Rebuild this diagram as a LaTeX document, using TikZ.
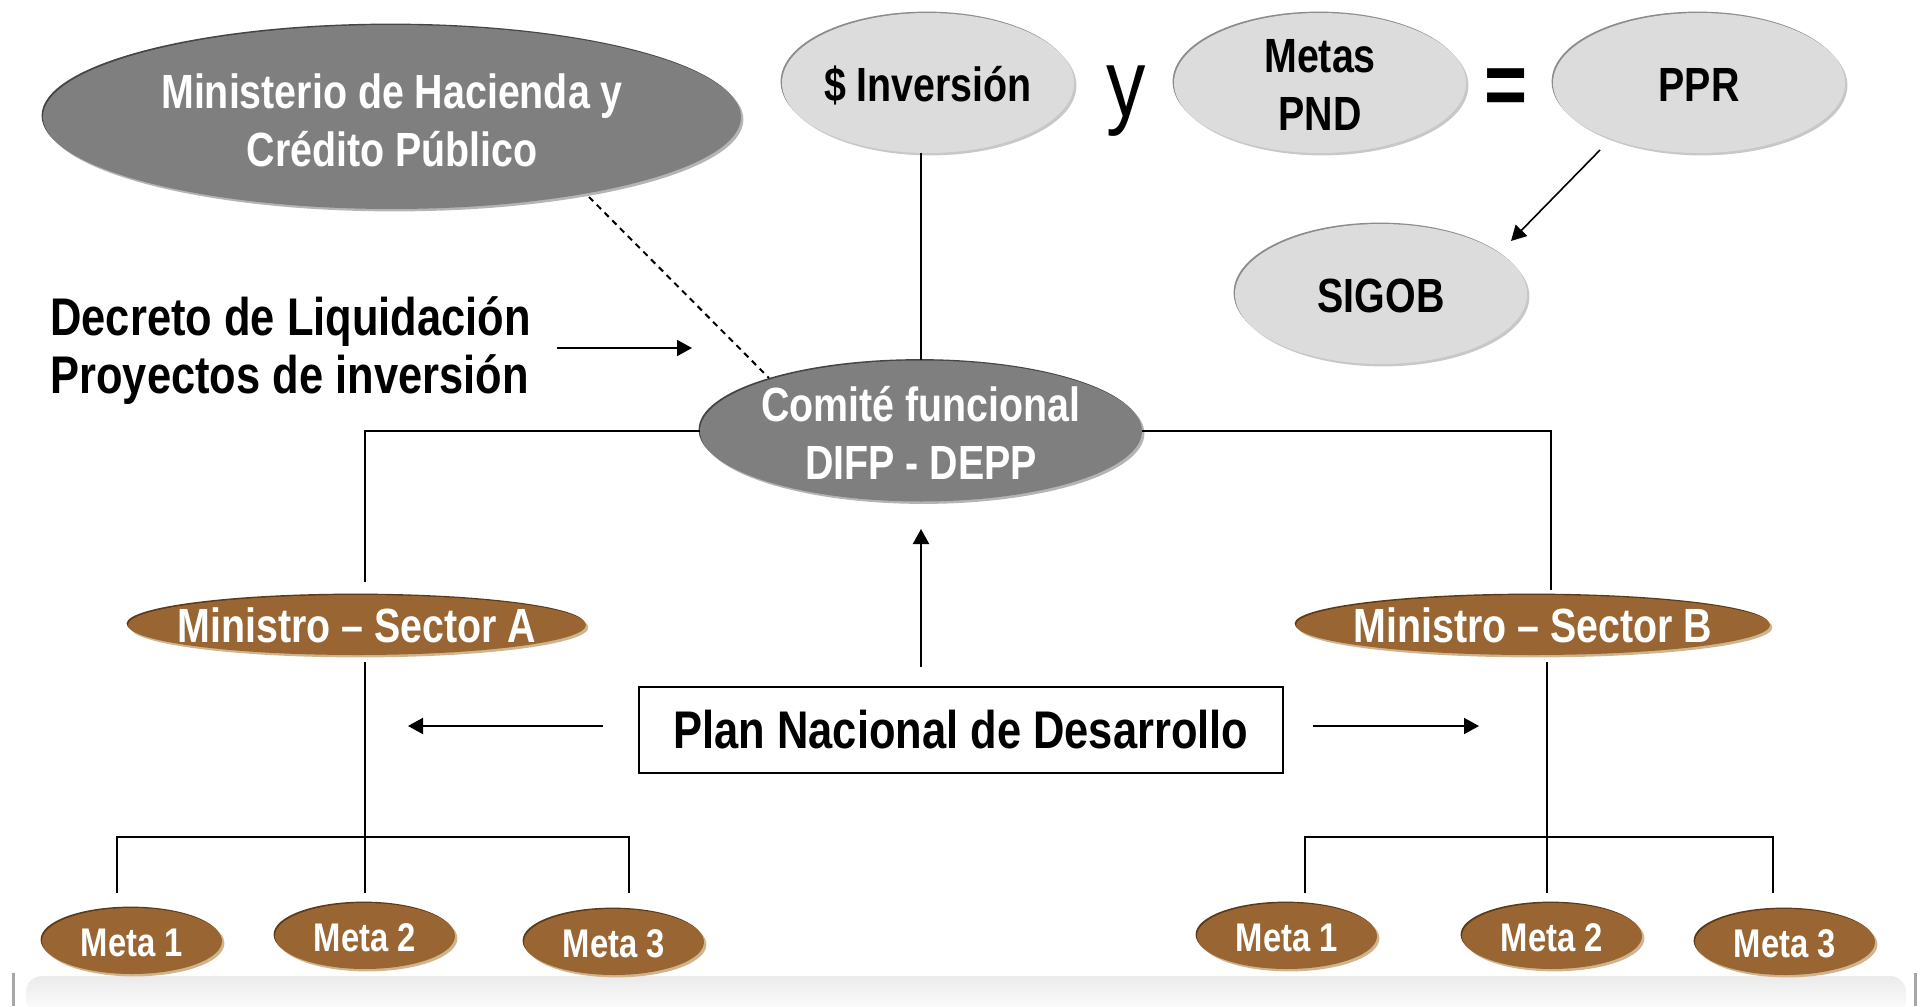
\documentclass[tikz,border=0pt]{standalone}
\usepackage{fontspec}
\setmainfont{Liberation Sans}[FakeStretch=0.82]
\usetikzlibrary{shapes.geometric,shadows,arrows.meta}
\definecolor{lgfill}{HTML}{DCDCDC}
\definecolor{lgedge}{HTML}{8C8C8C}
\definecolor{lgshad}{HTML}{C8C8C8}
\definecolor{dgfill}{HTML}{7F7F7F}
\definecolor{dgedge}{HTML}{454545}
\definecolor{dgshad}{HTML}{B4B4B4}
\definecolor{brfill}{HTML}{996633}
\definecolor{bredge}{HTML}{5A3A1A}
\definecolor{brshad}{HTML}{D2B48C}
\tikzset{
  baseell/.style={ellipse, inner sep=0pt},
  lightell/.style={baseell, fill=lgfill,
    general shadow={shadow xshift=-0.7pt, shadow yshift=0.7pt, fill=lgedge},
    general shadow={shadow xshift=1.2pt, shadow yshift=-1.2pt, fill=lgshad}},
  darkell/.style={baseell, fill=dgfill,
    general shadow={shadow xshift=-0.7pt, shadow yshift=0.7pt, fill=dgedge},
    general shadow={shadow xshift=1.2pt, shadow yshift=-1.2pt, fill=dgshad}},
  brownell/.style={baseell, fill=brfill,
    general shadow={shadow xshift=-0.7pt, shadow yshift=0.7pt, fill=bredge},
    general shadow={shadow xshift=1.2pt, shadow yshift=-1.2pt, fill=brshad}},
  bigell/.style={minimum width=146pt, minimum height=70pt},
  metaell/.style={brownell, minimum width=90pt, minimum height=33pt},
  ftxt/.style={font=\fontsize{24}{29}\selectfont\bfseries, align=center, yshift=-1pt},
  wtxt/.style={ftxt, text=white},
  btxt/.style={ftxt, text=black},
  mtxt/.style={font=\fontsize{20}{24}\selectfont\bfseries, text=white, yshift=-1pt},
  conn/.style={line width=1pt, black},
  arr/.style={conn, -{Triangle[length=7.5pt,width=8pt]}},
}
\begin{document}
\begin{tikzpicture}[x=0.5pt,y=-0.5pt]
\useasboundingbox (0,0) rectangle (1931,1006);

% bottom panel
\shade[top color=gray!16, bottom color=white, rounded corners=8pt] (26,976) rectangle (1906,1016);
\draw[gray!70, line width=1.5pt] (13,973) -- (13,1006);
\draw[gray!70, line width=1.5pt] (1915,973) -- (1915,1006);

% top ellipses
\node[darkell, minimum width=349pt, minimum height=92pt,
  label={[wtxt, yshift=-0.8pt]center:Ministerio de Hacienda y\\Crédito Público}] (mhcp) at (392,117) {};
\node[lightell, bigell, label={[btxt]center:\$ Inversión}] (inv) at (928,83) {};
\node[font=\fontsize{48}{48}\selectfont, anchor=base, inner sep=0pt] (yy) at (1126,117) {y};
\node[lightell, bigell, label={[btxt]center:Metas\\PND}] (metas) at (1320,83) {};
\node[font=\fontsize{45}{45}\selectfont\bfseries, anchor=base, inner sep=0pt] (eq) at (1506,116) {=};
\node[lightell, bigell, label={[btxt]center:PPR}] (ppr) at (1699,83) {};
\node[lightell, bigell, label={[btxt]center:SIGOB}] (sigob) at (1381,294) {};

% decreto
\node[font=\fontsize{26.5}{29}\selectfont\bfseries, align=left, anchor=west, inner sep=0pt] (decr) at (50,351) {Decreto de Liquidación\\Proyectos de inversión};

% comite
\node[darkell, minimum width=221pt, minimum height=70.5pt,
  label={[wtxt]center:Comité funcional\\DIFP - DEPP}] (comite) at (921,431) {};

% ministros
\node[brownell, minimum width=229pt, minimum height=30pt,
  label={[wtxt, yshift=1pt]center:Ministro – Sector A}] (minA) at (357,625) {};
\node[brownell, minimum width=237pt, minimum height=30pt,
  label={[wtxt, yshift=1pt]center:Ministro – Sector B}] (minB) at (1533,625) {};

% plan
\node[draw, line width=1.2pt, minimum width=322pt, minimum height=43pt, inner sep=0pt,
  font=\fontsize{26.5}{30}\selectfont\bfseries] (plan) at (961,730) {\raisebox{-1.2pt}{Plan Nacional de Desarrollo}};

% metas
\node[metaell, label={[mtxt]center:Meta 1}] (ma1) at (132,941) {};
\node[metaell, label={[mtxt]center:Meta 2}] (ma2) at (365,936) {};
\node[metaell, label={[mtxt]center:Meta 3}] (ma3) at (614,942) {};
\node[metaell, label={[mtxt]center:Meta 1}] (mb1) at (1287,936) {};
\node[metaell, label={[mtxt]center:Meta 2}] (mb2) at (1552,936) {};
\node[metaell, label={[mtxt]center:Meta 3}] (mb3) at (1785,942) {};

% coordinates
\coordinate (dA) at (589,197);
\coordinate (dB) at (769,378);
\coordinate (aTop) at (365,582);
\coordinate (bTop) at (1551,590);
\coordinate (aBot) at (365,662);
\coordinate (bBot) at (1547,662);
\coordinate (a1) at (117,893);
\coordinate (a2) at (365,893);
\coordinate (a3) at (629,893);
\coordinate (abr) at (365,837);
\coordinate (b1) at (1305,893);
\coordinate (b2) at (1547,893);
\coordinate (b3) at (1773,893);
\coordinate (bbr) at (1547,837);
\coordinate (dec0) at (557,348);
\coordinate (dec1) at (692,348);
\coordinate (up0) at (921,667);
\coordinate (up1) at (921,529);
\coordinate (pl0) at (603,726);
\coordinate (pl1) at (408,726);
\coordinate (pr0) at (1313,726);
\coordinate (pr1) at (1479,726);
\coordinate (pp0) at (1600,150);
\coordinate (pp1) at (1511,241);

% connectors
\draw[conn, dash pattern=on 3pt off 2.5pt] (dA) -- (dB);
\draw[conn] (comite.north |- inv.south) -- (comite.north);
\draw[conn] (comite.west) -| (aTop);
\draw[conn] (comite.east) -| (bTop);
\draw[conn] (aBot) -- (a2);
\draw[conn] (bBot) -- (b2);
\draw[conn, line width=1.3pt] (a1) |- (abr) -| (a3);
\draw[conn, line width=1.3pt] (b1) |- (bbr) -| (b3);
\draw[arr] (dec0) -- (dec1);
\draw[arr] (up0) -- (up1);
\draw[arr] (pl0) -- (pl1);
\draw[arr] (pr0) -- (pr1);
\draw[arr, line width=0.8pt] (pp0) -- (pp1);
\end{tikzpicture}
\end{document}
